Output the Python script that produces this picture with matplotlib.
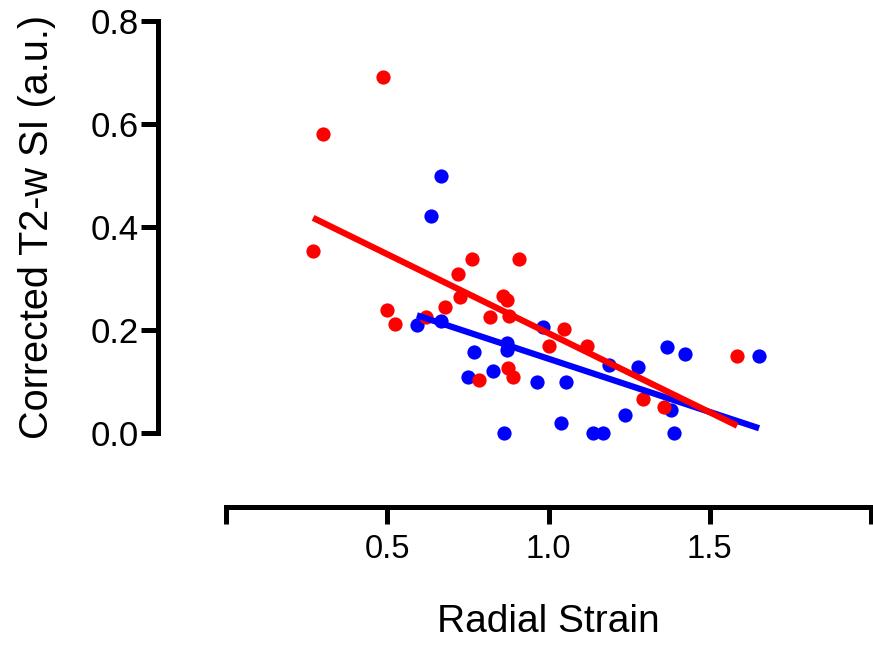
import numpy as np
import matplotlib
matplotlib.use('Agg')
import matplotlib.pyplot as plt

plt.rcParams['font.family'] = ['Liberation Sans', 'DejaVu Sans']

# red group
red_x = [0.487, 0.30, 0.27, 0.50, 0.524, 0.62, 0.68, 0.72, 0.763, 0.726,
         0.86, 0.87, 0.909, 0.82, 0.878, 1.048, 1.00, 0.874, 0.89, 0.784,
         1.12, 1.293, 1.358, 1.585]
red_y = [0.691, 0.58, 0.353, 0.239, 0.212, 0.225, 0.245, 0.309, 0.338, 0.264,
         0.266, 0.258, 0.338, 0.225, 0.227, 0.202, 0.169, 0.126, 0.109, 0.103,
         0.169, 0.066, 0.050, 0.150]

# blue group
blue_x = [0.667, 0.636, 0.592, 0.667, 0.983, 0.871, 0.871, 0.769, 0.75, 0.828,
          0.862, 0.964, 1.054, 1.039, 1.138, 1.169, 1.237, 1.188, 1.278, 1.367,
          1.38, 1.389, 1.423, 1.653]
blue_y = [0.499, 0.421, 0.210, 0.217, 0.206, 0.175, 0.161, 0.157, 0.109, 0.120,
          0.0, 0.099, 0.099, 0.019, 0.0, 0.0, 0.035, 0.132, 0.128, 0.167,
          0.045, 0.0, 0.153, 0.149]

xticks = [0, 0.5, 1.0, 1.5, 2.0]
xticklabels = ['', '0.5', '1.0', '1.5', '']
yticks = [0.0, 0.2, 0.4, 0.6, 0.8]

fig = plt.figure(figsize=(8.73, 6.46), dpi=100)
ax = fig.add_axes([0.2589, 0.3297, 0.7388, 0.6378])

ax.scatter(blue_x, blue_y, s=105, color='#0000FF', linewidths=0, zorder=2, clip_on=False)
ax.scatter(red_x, red_y, s=105, color='#FF0000', linewidths=0, zorder=3, clip_on=False)

# linear regression lines
for xs, ys, c, z in [(blue_x, blue_y, '#0000FF', 4), (red_x, red_y, '#FF0000', 5)]:
    xs = np.array(xs)
    ys = np.array(ys)
    k, b = np.polyfit(xs, ys, 1)
    xx = np.array([xs.min(), xs.max()])
    ax.plot(xx, k * xx + b, color=c, lw=4.5, zorder=z, solid_capstyle='butt')

ax.set_xlim(0, 2.0)
ax.set_ylim(0, 0.8)

for s in ['top', 'right']:
    ax.spines[s].set_visible(False)
ax.spines['left'].set_position(('outward', 49))
ax.spines['bottom'].set_position(('outward', 53))
ax.spines['left'].set_linewidth(3.6)
ax.spines['bottom'].set_linewidth(3.6)
ax.spines['left'].set_bounds(0, 0.8)
ax.spines['bottom'].set_bounds(0, 2.0)
ax.spines['left'].set_capstyle('projecting')
ax.spines['bottom'].set_capstyle('projecting')

ax.set_xticks(xticks)
ax.set_xticklabels(xticklabels)
ax.set_yticks(yticks)
ax.set_yticklabels(['%.1f' % v for v in yticks])
ax.tick_params(axis='x', length=12, width=3.6, labelsize=23.5, pad=8)
ax.tick_params(axis='y', length=12, width=3.6, labelsize=25, pad=1.5)

ax.set_xlabel('Radial Strain', fontsize=28, labelpad=28)
ax.set_ylabel('Corrected T2-w SI (a.u.)', fontsize=28.5, labelpad=25)

plt.savefig('out.png', dpi=100)
